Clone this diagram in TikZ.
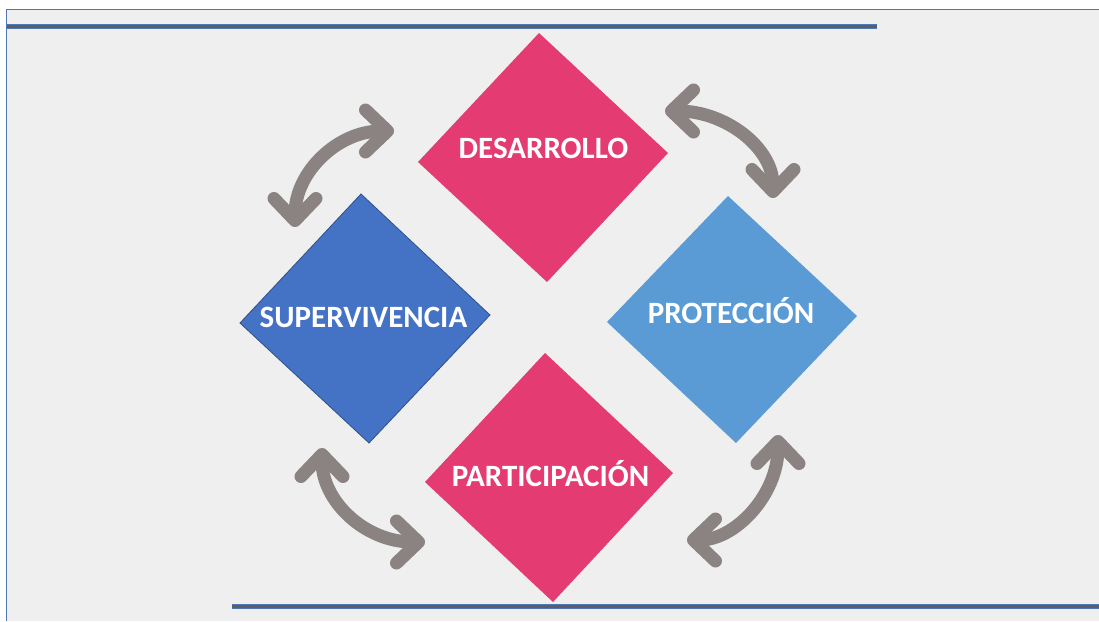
\documentclass[tikz,border=0pt]{standalone}
\usepackage{fontspec}
\setmainfont{Carlito}
\usepackage{tikz}
\usetikzlibrary{positioning}
\usetikzlibrary{arrows.meta}
\definecolor{rosa}{HTML}{E43B73}
\definecolor{azul}{HTML}{4472C4}
\definecolor{celeste}{HTML}{5B9BD5}
\definecolor{gris}{HTML}{8B8382}
\definecolor{fondo}{HTML}{EFEFEF}
\definecolor{marco}{HTML}{4F77B5}
\definecolor{barra}{HTML}{5A5E68}
\tikzset{etiqueta/.style={text=white, font=\bfseries\fontsize{31}{31}\selectfont, anchor=base, inner sep=0pt}}
\tikzset{ciclo/.style={draw=gris, line width=13pt, line cap=round, line join=round,
  arrows={Straight Barb[round,length=22pt,width=42pt]-Straight Barb[round,length=22pt,width=42pt]}}}

\begin{document}
\begin{tikzpicture}[x=1pt,y=-1pt]
\useasboundingbox (0,0) rectangle (1099,621);
\fill[white] (0,0) rectangle (1099,621);
\fill[fondo] (6.5,9) rectangle (1099,621);
\draw[marco, line width=1pt] (6.5,621) -- (6.5,9) -- (1099,9);
% barras arriba y abajo
\draw[marco, line width=5pt] (7,26.5) -- (877,26.5);
\draw[barra, line width=3.5pt] (7,26.5) -- (877,26.5);
\draw[marco, line width=5pt] (232,606.5) -- (1099,606.5);
\draw[barra, line width=3.5pt] (232,606.5) -- (1099,606.5);
% rombos
\fill[rosa] (539,33) -- (668,153) -- (547,282) -- (418,162) -- cycle;
\filldraw[fill=azul, draw=azul!70!black, line width=0.8pt] (361,194) -- (490,315) -- (369,443) -- (240,323) -- cycle;
\fill[celeste] (728,196) -- (857,316) -- (736,443) -- (607,322) -- cycle;
\fill[rosa] (545,353) -- (673,473) -- (553,602) -- (425,482) -- cycle;
\node[etiqueta] (desarrollo) at (543.5,158) {DESARROLLO};
\node[etiqueta] (supervivencia) at (363.5,327) {SUPERVIVENCIA};
\node[etiqueta] (proteccion) at (731,323) {PROTECCIÓN};
\node[etiqueta] (participacion) at (550.5,486) {PARTICIPACIÓN};
% flechas
\coordinate (supA) at (295,227); \coordinate (desA) at (394,131);
\coordinate (desB) at (665,111); \coordinate (proB) at (773,198);
\coordinate (supC) at (322,448); \coordinate (parC) at (425,542);
\coordinate (proD) at (778,435); \coordinate (parD) at (687,540);
\draw[ciclo] (supA) .. controls (295,172) and (338,131) .. (desA);
\draw[ciclo] (desB) .. controls (726,111) and (773,148) .. (proB);
\draw[ciclo] (supC) .. controls (322,502) and (366,542) .. (parC);
\draw[ciclo] (proD) .. controls (778,495) and (735,540) .. (parD);
\end{tikzpicture}
\end{document}
